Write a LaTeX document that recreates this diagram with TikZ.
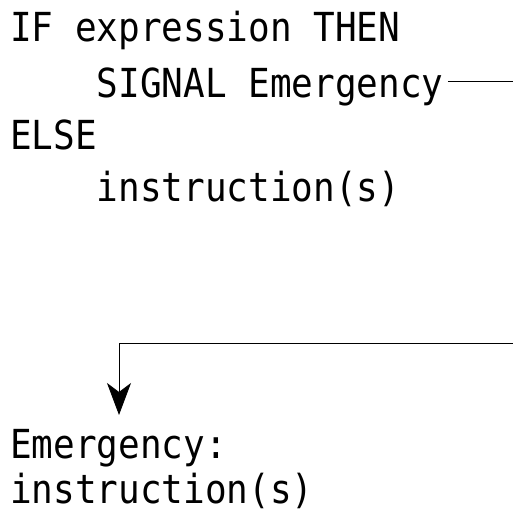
\documentclass[tikz,border=0pt]{standalone}
\usepackage{fontspec}
\setmonofont[FakeStretch=0.9]{DejaVu Sans Mono}
\usetikzlibrary{arrows.meta}
\tikzstyle{every node}=[inner sep=0pt,anchor=base west]
\tikzstyle{code}=[font=\fontsize{40}{48}\selectfont\ttfamily]
\tikzstyle{jump}=[line width=0.8pt]

\begin{document}
\begin{tikzpicture}[x=1pt,y=1pt]
    \useasboundingbox (0,0) rectangle (512,514);
    \node [code] (ifline) at (10,472) {IF expression THEN};
    \node [code] (signal) at (96.7,416) {SIGNAL Emergency};
    \node [code] (elseline) at (10,364) {ELSE};
    \node [code] (instr) at (96.7,312) {instruction(s)};
    \node [code] (emerg) at (10,55) {Emergency:};
    \node [code] (instrb) at (10,10) {instruction(s)};
    \coordinate (out) at ([xshift=4pt,yshift=17pt]signal.base east);
    \coordinate (corner) at (530,171);
    \coordinate (elbow) at (119,171);
    \coordinate (tip) at (119,99);
    \draw [jump,-{Stealth[length=32pt,width=24pt,inset=9pt]}]
        (out) -| (corner) -- (elbow) -- (tip);
\end{tikzpicture}
\end{document}
